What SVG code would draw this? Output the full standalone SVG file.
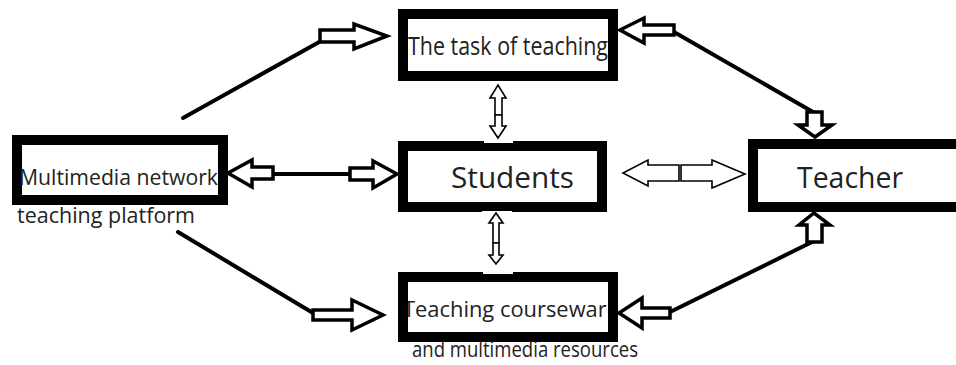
<svg xmlns="http://www.w3.org/2000/svg" width="956" height="365" viewBox="0 0 956 365">
  <style>
    .box { fill: none; stroke: #000; stroke-width: 10; }
    .lbl { font-family: "Open Sans", "Noto Sans", "DejaVu Sans", sans-serif; fill: #222; }
    .big { font-size: 30px; }
    .mid { font-size: 25px; }
    .sm  { font-size: 22px; }
    .link { stroke: #000; stroke-width: 4; fill: none; stroke-linecap: round; }
    .bold { fill: #fff; stroke: #000; stroke-width: 3.5; stroke-linejoin: miter; }
    .thin { fill: #fff; stroke: #000; stroke-width: 1.6; stroke-linejoin: miter; }
  </style>
  <rect width="956" height="365" fill="#fff"/>

  <g id="task">
    <rect class="box" x="403" y="14" width="210" height="62"/>
    <text class="lbl mid" x="408" y="55" textLength="200" lengthAdjust="spacingAndGlyphs">The task of teaching</text>
  </g>

  <g id="platform">
    <rect class="box" x="17" y="140" width="206" height="60"/>
    <text class="lbl sm" x="19" y="185" textLength="199" lengthAdjust="spacingAndGlyphs">Multimedia network</text>
    <text class="lbl sm" x="17" y="223" textLength="178" lengthAdjust="spacingAndGlyphs">teaching platform</text>
  </g>

  <g id="students">
    <rect class="box" x="403" y="146" width="199" height="61"/>
    <rect x="484" y="140" width="29" height="3" fill="#fff"/>
    <rect x="482" y="211" width="30" height="2" fill="#fff"/>
    <text class="lbl big" x="451" y="188" textLength="123" lengthAdjust="spacingAndGlyphs">Students</text>
  </g>

  <g id="teacher">
    <rect class="box" x="753" y="144" width="260" height="63"/>
    <text class="lbl big" x="797" y="188" textLength="106" lengthAdjust="spacingAndGlyphs">Teacher</text>
  </g>

  <g id="courseware">
    <!-- label sits under the frame, so the frame clips its ends -->
    <text class="lbl sm" x="403" y="317" textLength="216" lengthAdjust="spacingAndGlyphs">Teaching courseware</text>
    <rect class="box" x="403" y="277" width="210" height="60"/>
    <rect x="483" y="271" width="30" height="3" fill="#fff"/>
    <text class="lbl sm" x="412" y="357" textLength="226" lengthAdjust="spacingAndGlyphs">and multimedia resources</text>
  </g>

  <g id="connectors">
    <!-- platform to task -->
    <line class="link" x1="183" y1="118" x2="321" y2="41"/>
    <polygon class="bold" points="320,30 354,30 354,24 387,36 354,49 354,42 320,42"/>

    <!-- teacher to task -->
    <line class="link" x1="674" y1="32" x2="813" y2="112"/>
    <polygon class="bold" points="674,25 644,25 644,18 620,30 644,43 644,35 674,35"/>
    <polygon class="bold" points="807,112 822,112 822,125 832,125 815,137 798,125 807,125"/>

    <!-- teacher to courseware -->
    <line class="link" x1="812" y1="242" x2="670" y2="312"/>
    <polygon class="bold" points="807,242 807,225 799,225 814,213 830,225 822,225 822,242"/>
    <polygon class="bold" points="670,308 642,308 642,298 619,313 642,328 642,318 670,318"/>

    <!-- platform to students -->
    <line class="link" x1="273" y1="174" x2="350" y2="174"/>
    <polygon class="bold" points="273,167 252,167 252,160 228,173 252,187 252,179 273,179"/>
    <polygon class="bold" points="350,168 373,168 373,161 397,174 373,188 373,180 350,180"/>

    <!-- platform to courseware -->
    <line class="link" x1="178" y1="232" x2="313" y2="313"/>
    <polygon class="bold" points="313,310 352,310 352,300 383,315 352,330 352,320 313,320"/>

    <!-- students to teacher -->
    <polygon class="thin" points="679,165 648,165 648,160 623,173 648,186 648,181 679,181"/>
    <polygon class="thin" points="681,165 712,165 712,160 745,174 712,188 712,181 681,181"/>

    <!-- task to students -->
    <polygon class="thin" points="495,115 495,98 490,98 498,85 506,98 502,98 502,115"/>
    <polygon class="thin" points="495,115 495,126 490,126 498,138 506,126 502,126 502,115"/>

    <!-- students to courseware -->
    <polygon class="thin" points="493,243 493,223 489,223 496,213 503,223 499,223 499,243"/>
    <polygon class="thin" points="493,243 493,255 489,255 496,264 503,255 499,255 499,243"/>
  </g>
</svg>
